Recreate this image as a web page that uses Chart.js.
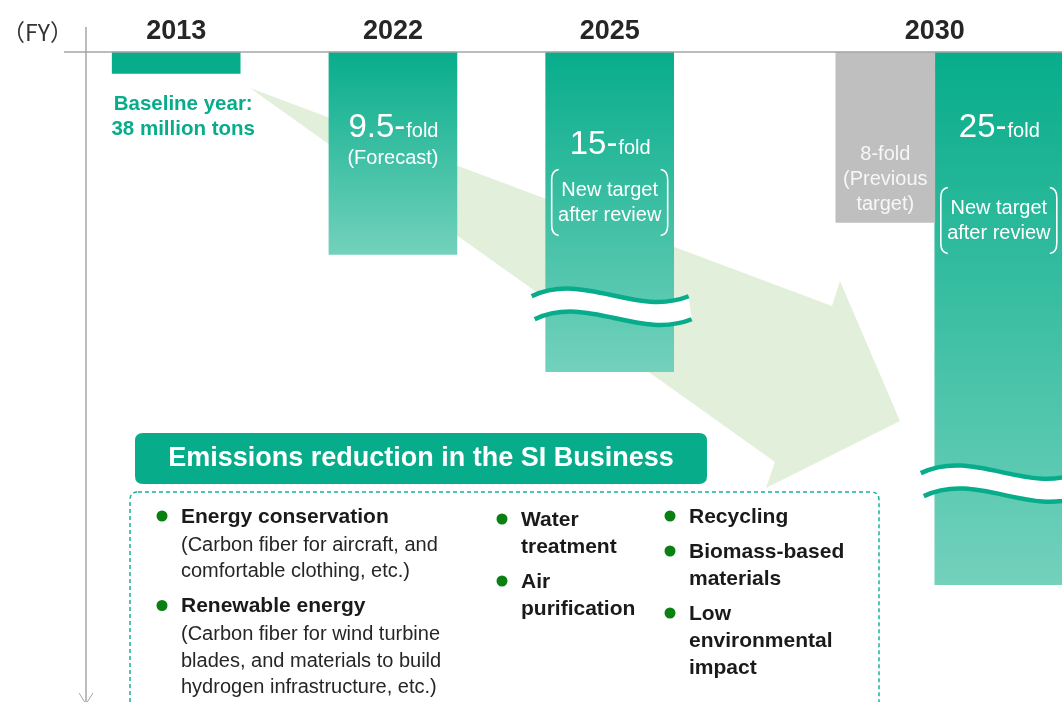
<!DOCTYPE html>
<html lang="en">
<head>
    <meta charset="UTF-8">
    <title>Emissions reduction contribution in the SI Business</title>
    <script src="https://cdn.jsdelivr.net/npm/chart.js@4.4.2/dist/chart.umd.min.js"></script>
    <style>
        html, body { margin: 0; padding: 0; background: #ffffff; }
        .wrap { width: 1062px; height: 702px; position: relative; }
    </style>
</head>
<body>
<div class="wrap"><canvas id="foldChart"></canvas></div>
<script>
    // Fiscal years shown on the axis
    const years = ['2013', '2022', '2025', '2030'];
    // Contribution as a multiple of the FY2013 baseline (38 million tons)
    const foldNew = [1, 9.5, 15, 25];
    const foldPrev = [null, null, null, 8];
    // Where the bar is cut by a break mark (value units), null = no break
    const foldBreak = [null, null, 12, 20.3];
    // Text inside the bars
    const foldNum = ['', '9.5-', '15-', '25-'];
    const foldNote = [[], ['(Forecast)'], ['New target', 'after review'], ['New target', 'after review']];
    const prevNote = ['8-fold', '(Previous', 'target)'];

    const baselineText = ['Baseline year:', '38 million tons'];
    const boxTitle = 'Emissions reduction in the SI Business';
    const measures = [
        { col: 0, lines: [['b', 'Energy conservation'], ['n', '(Carbon fiber for aircraft, and'], ['n', 'comfortable clothing, etc.)']] },
        { col: 0, lines: [['b', 'Renewable energy'], ['n', '(Carbon fiber for wind turbine'], ['n', 'blades, and materials to build'], ['n', 'hydrogen infrastructure, etc.)']] },
        { col: 1, lines: [['b', 'Water'], ['b', 'treatment']] },
        { col: 1, lines: [['b', 'Air'], ['b', 'purification']] },
        { col: 2, lines: [['b', 'Recycling']] },
        { col: 2, lines: [['b', 'Biomass-based'], ['b', 'materials']] },
        { col: 2, lines: [['b', 'Low'], ['b', 'environmental'], ['b', 'impact']] }
    ];

    // layout: years sit on a half-step grid so 2030 gets extra room
    const slotOf = [0, 2, 4, 7];
    const slotCount = 8;
    const slotLabels = new Array(slotCount).fill('');
    const newData = new Array(slotCount).fill(null);
    const prevData = new Array(slotCount).fill(null);
    slotOf.forEach((s, i) => {
        slotLabels[s] = years[i];
        newData[s] = foldNew[i];
        prevData[s] = foldPrev[i];
    });

    const FONT = '"Liberation Sans", Arial, sans-serif';
    const GREEN = '#07ad8b';
    const GREEN_LIGHT = '#73d1bc';
    const AXIS = '#a6a6a6';

    function barFill(c) {
        const chart = c.chart;
        const area = chart.chartArea;
        if (!area || c.raw == null || c.raw < 2) return GREEN;
        const yEnd = chart.scales.y.getPixelForValue(c.raw);
        const g = chart.ctx.createLinearGradient(0, area.top, 0, yEnd);
        g.addColorStop(0, GREEN);
        g.addColorStop(1, GREEN_LIGHT);
        return g;
    }

    function roundRect(ctx, x, y, w, h, r) {
        ctx.beginPath();
        ctx.moveTo(x + r, y);
        ctx.lineTo(x + w - r, y);
        ctx.quadraticCurveTo(x + w, y, x + w, y + r);
        ctx.lineTo(x + w, y + h - r);
        ctx.quadraticCurveTo(x + w, y + h, x + w - r, y + h);
        ctx.lineTo(x + r, y + h);
        ctx.quadraticCurveTo(x, y + h, x, y + h - r);
        ctx.lineTo(x, y + r);
        ctx.quadraticCurveTo(x, y, x + r, y);
        ctx.closePath();
    }

    function bracket(ctx, x, top, bottom, dir) {
        // dir = 1 for "(" , -1 for ")"
        ctx.beginPath();
        ctx.moveTo(x + 7 * dir, top);
        ctx.quadraticCurveTo(x, top + 1, x, top + 10);
        ctx.lineTo(x, bottom - 10);
        ctx.quadraticCurveTo(x, bottom - 1, x + 7 * dir, bottom);
        ctx.stroke();
    }

    function wave(ctx, x0, x1, y, back) {
        const w = x1 - x0;
        if (!back) {
            ctx.moveTo(x0, y);
            ctx.bezierCurveTo(x0 + w / 3, y - 25, x0 + 2 * w / 3, y + 21, x1, y);
        } else {
            ctx.lineTo(x1, y);
            ctx.bezierCurveTo(x0 + 2 * w / 3, y + 21, x0 + w / 3, y - 25, x0, y);
        }
    }

    function drawBreak(ctx, x0, x1, c) {
        const gap = 23;
        ctx.save();
        ctx.beginPath();
        wave(ctx, x0, x1, c - gap / 2, false);
        wave(ctx, x0 + 3, x1 + 3, c + gap / 2, true);
        ctx.closePath();
        ctx.fillStyle = '#ffffff';
        ctx.fill();
        ctx.strokeStyle = GREEN;
        ctx.lineWidth = 4.5;
        ctx.beginPath();
        wave(ctx, x0, x1, c - gap / 2, false);
        ctx.stroke();
        ctx.beginPath();
        wave(ctx, x0 + 3, x1 + 3, c + gap / 2, false);
        ctx.stroke();
        ctx.restore();
    }

    function foldLabel(ctx, cx, baseY, num) {
        const big = '33px ' + FONT, small = '20px ' + FONT;
        ctx.font = big;
        const w1 = ctx.measureText(num).width;
        ctx.font = small;
        const w2 = ctx.measureText('fold').width;
        const x = cx - (w1 + w2) / 2;
        ctx.textAlign = 'left';
        ctx.textBaseline = 'alphabetic';
        ctx.font = big;
        ctx.fillText(num, x, baseY);
        ctx.font = small;
        ctx.fillText('fold', x + w1 + 1, baseY);
    }

    const decor = {
        id: 'decor',
        beforeDatasetsDraw(chart) {
            const ctx = chart.ctx;
            // big light green arrow behind the bars
            const pts = [[250, 88], [832, 306], [840, 281], [900, 421], [766, 488], [775, 462]];
            ctx.save();
            ctx.beginPath();
            pts.forEach((p, i) => i ? ctx.lineTo(p[0], p[1]) : ctx.moveTo(p[0], p[1]));
            ctx.closePath();
            ctx.fillStyle = '#e2efda';
            ctx.fill();
            ctx.restore();
        },
        afterDatasetsDraw(chart) {
            const ctx = chart.ctx;
            const y = chart.scales.y;
            const top = chart.chartArea.top;
            const newMeta = chart.getDatasetMeta(1);
            const prevMeta = chart.getDatasetMeta(0);
            ctx.save();

            // axis lines
            ctx.strokeStyle = AXIS;
            ctx.lineWidth = 1.5;
            ctx.beginPath();
            ctx.moveTo(64, top);
            ctx.lineTo(1062, top);
            ctx.moveTo(86, 27);
            ctx.lineTo(86, 704);
            ctx.stroke();
            ctx.lineWidth = 1;
            ctx.beginPath();
            ctx.moveTo(79, 693);
            ctx.lineTo(86, 704);
            ctx.lineTo(93, 693);
            ctx.stroke();

            ctx.fillStyle = '#333333';
            ctx.font = '23px "Noto Sans CJK JP", ' + FONT;
            ctx.textAlign = 'left';
            ctx.textBaseline = 'middle';
            ctx.fillText('（FY）', 2, 32);

            // baseline label under the 2013 bar
            const b0 = newMeta.data[slotOf[0]];
            ctx.fillStyle = GREEN;
            ctx.font = 'bold 20.5px ' + FONT;
            ctx.textAlign = 'center';
            ctx.fillText(baselineText[0], b0.x + 7, 104);
            ctx.fillText(baselineText[1], b0.x + 7, 129);

            // break marks
            foldBreak.forEach((v, i) => {
                if (v == null) return;
                const bar = newMeta.data[slotOf[i]];
                const half = bar.width / 2;
                drawBreak(ctx, bar.x - half - 14, bar.x + half + 15, y.getPixelForValue(v));
            });

            // labels inside the green bars
            ctx.fillStyle = '#ffffff';
            ctx.strokeStyle = '#ffffff';
            ctx.lineWidth = 1.6;
            const numBase = [0, 137, 154, 137];
            const noteMid = [0, 158, 190, 208];
            for (let i = 1; i < years.length; i++) {
                const bar = newMeta.data[slotOf[i]];
                foldLabel(ctx, bar.x, numBase[i], foldNum[i]);
                ctx.font = '20px ' + FONT;
                ctx.textAlign = 'center';
                ctx.textBaseline = 'middle';
                foldNote[i].forEach((t, k) => ctx.fillText(t, bar.x, noteMid[i] + k * 25));
                if (foldNote[i].length > 1) {
                    const mid = noteMid[i] + 12.5;
                    bracket(ctx, bar.x - 58, mid - 33, mid + 33, 1);
                    bracket(ctx, bar.x + 58, mid - 33, mid + 33, -1);
                }
            }

            // previous target bar text
            const pb = prevMeta.data[slotOf[3]];
            ctx.fillStyle = '#f7f7f7';
            ctx.font = '20px ' + FONT;
            prevNote.forEach((t, k) => ctx.fillText(t, pb.x, 154 + k * 25));

            // header box
            ctx.fillStyle = GREEN;
            roundRect(ctx, 135, 433, 572, 51, 8);
            ctx.fill();
            ctx.fillStyle = '#ffffff';
            ctx.font = 'bold 27px ' + FONT;
            ctx.fillText(boxTitle, 421, 459);

            // dashed frame
            ctx.strokeStyle = '#19b396';
            ctx.lineWidth = 1.5;
            ctx.setLineDash([4, 3]);
            roundRect(ctx, 130, 492, 749, 240, 8);
            ctx.stroke();
            ctx.setLineDash([]);

            // bullet lists
            const colX = [162, 502, 670];
            const startY = [517, 520, 517];
            const cursor = startY.slice();
            const itemGap = [8, 8, 8];
            ctx.textAlign = 'left';
            measures.forEach(m => {
                const cx = colX[m.col];
                let yy = cursor[m.col];
                ctx.fillStyle = '#0a7f12';
                ctx.beginPath();
                ctx.arc(cx, yy - 1, 5.5, 0, Math.PI * 2);
                ctx.fill();
                m.lines.forEach((ln, k) => {
                    ctx.fillStyle = ln[0] === 'b' ? '#1a1a1a' : '#262626';
                    ctx.font = (ln[0] === 'b' ? 'bold 21px ' : '20px ') + FONT;
                    ctx.fillText(ln[1], cx + 19, yy);
                    yy += (k + 1 < m.lines.length && m.lines[k + 1][0] === 'n') ? (k === 0 ? 28 : 26.5) : 27;
                });
                cursor[m.col] = yy + itemGap[m.col];
            });

            ctx.restore();
        }
    };

    new Chart(document.getElementById('foldChart'), {
        type: 'bar',
        data: {
            labels: slotLabels,
            datasets: [
                { label: 'Previous target', data: prevData, backgroundColor: '#bfbfbf', barThickness: 99, clip: false },
                { label: 'New target / actual', data: newData, backgroundColor: barFill, barThickness: 128, clip: false }
            ]
        },
        options: {
            responsive: true,
            maintainAspectRatio: false,
            animation: false,
            layout: { padding: { left: 122, right: 73, top: 0, bottom: 0 } },
            datasets: { bar: { skipNull: true, borderWidth: 0 } },
            plugins: {
                legend: { display: false },
                tooltip: { enabled: false }
            },
            scales: {
                x: {
                    position: 'top',
                    grid: { display: false, drawTicks: false },
                    border: { display: false },
                    ticks: {
                        autoSkip: false,
                        maxRotation: 0,
                        padding: 4,
                        color: '#262626',
                        font: { family: FONT, size: 27, weight: 'bold' }
                    },
                    afterFit(scale) { scale.height = 52; }
                },
                y: { display: false, reverse: true, min: 0, max: 30.5 }
            }
        },
        plugins: [decor]
    });
</script>
</body>
</html>
